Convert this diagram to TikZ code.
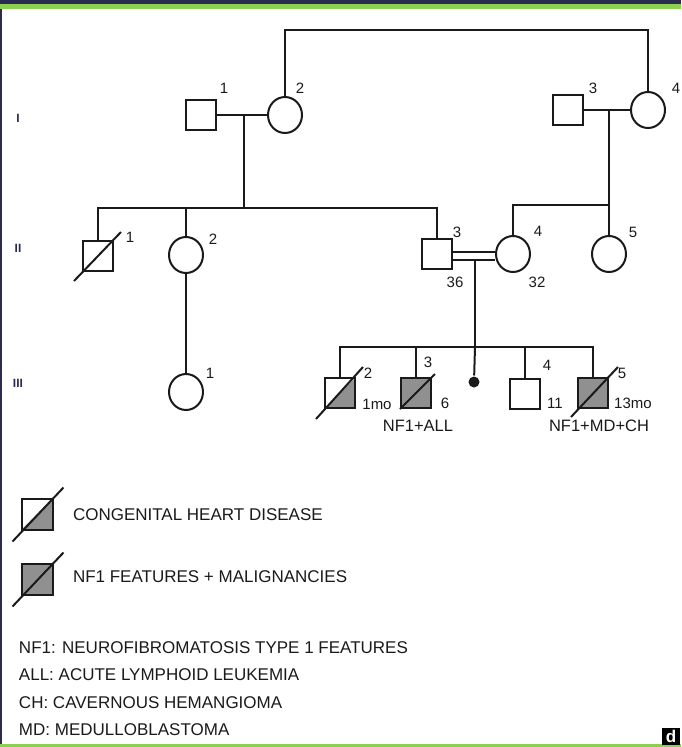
\documentclass[tikz,border=0pt]{standalone}
\usepackage{fontspec}
\setmainfont{Liberation Sans}
\usetikzlibrary{calc,shapes.geometric}
\definecolor{navy}{HTML}{2B2B4F}
\definecolor{band}{HTML}{8DCF4E}
\definecolor{aff}{HTML}{909090}
\definecolor{ink}{HTML}{1A1A1A}
\begin{document}
\begin{tikzpicture}[x=1pt,y=-1pt,line width=2pt,draw=ink,
  male/.style={draw=ink,rectangle,minimum size=30pt,inner sep=0pt},
  female/.style={draw=ink,ellipse,minimum width=34pt,minimum height=36pt,inner sep=0pt},
  chd/.style={male,path picture={\fill[aff] (path picture bounding box.south west) -- (path picture bounding box.south east) -- (path picture bounding box.north east) -- cycle;}},
  nfm/.style={male,fill=aff},
  num/.style={font=\fontsize{15}{17}\selectfont,inner sep=0pt,text=ink},
  dx/.style={font=\fontsize{16.5}{18}\selectfont,inner sep=0pt,text=ink},
  gen/.style={font=\fontsize{12}{13}\selectfont\bfseries,inner sep=0pt,text=navy},
  leg/.style={font=\fontsize{17}{19}\selectfont,inner sep=0pt,anchor=west,text=ink},
  abbr/.style={font=\fontsize{17}{19}\selectfont,inner sep=0pt,anchor=west,text=ink}]
\useasboundingbox (0,0) rectangle (681,747);
% frame bands
\fill[navy] (0,0) rectangle (681,3.5);
\fill[band] (0,3.5) rectangle (681,9);
\fill[navy] (0,9) rectangle (2,744);
\fill[band] (0,744) rectangle (681,747);
\node[fill=black,text=white,font=\fontsize{17}{18}\selectfont\bfseries,minimum width=18pt,minimum height=17pt,inner sep=0pt,anchor=north east] (dlab) at (681,727) {d};

% generation labels
\node[gen] (gI) at (18,118) {I};
\node[gen] (gII) at (18,248) {II};
\node[gen] (gIII) at (18,383) {III};

% Generation I
\node[male] (I1) at (201,115) {};
\node[female] (I2) at (285,115) {};
\node[male] (I3) at (568,110) {};
\node[female] (I4) at (648,110) {};
\node[num] (lI1) at (224,88) {1};
\node[num] (lI2) at (300,88) {2};
\node[num] (lI3) at (593,88) {3};
\node[num] (lI4) at (676,88) {4};
\coordinate (top) at (460,30);
\coordinate (m1) at (244,115);
\coordinate (m2) at (609,110);

% Generation II
\node[male] (II1) at (98,256) {};
\node[female] (II2) at (186,255) {};
\node[male] (II3) at (437,254) {};
\node[female] (II4) at (513,254) {};
\node[female] (II5) at (609,254) {};
\node[num] (lII1) at (130,237) {1};
\node[num] (lII2) at (213,239) {2};
\node[num] (lII3) at (457,232) {3};
\node[num] (lII4) at (538,231) {4};
\node[num] (lII5) at (633,232) {5};
\node[num] (aII3) at (455,282) {36};
\node[num] (aII4) at (537,282) {32};
\coordinate (s2) at (244,208);
\coordinate (s3) at (609,205);

% Generation III
\node[female] (III1) at (186,392) {};
\node[chd] (III2) at (340,393) {};
\node[nfm] (III3) at (416,393) {};
\node[circle,fill=ink,minimum size=11pt,inner sep=0pt] (preg) at (474,382) {};
\node[male] (III4) at (525,394) {};
\node[nfm] (III5) at (593,393) {};
\node[num] (lIII1) at (210,373) {1};
\node[num] (lIII2) at (368,373) {2};
\node[num] (lIII3) at (428,362) {3};
\node[num] (lIII4) at (547,365) {4};
\node[num] (lIII5) at (622,373) {5};
\node[num] (aIII2) at (377,404) {1mo};
\node[num] (aIII3) at (445,403) {6};
\node[num] (aIII4) at (555,403) {11};
\node[num] (aIII5) at (633,403) {13mo};
\node[dx] (dIII3) at (418,426) {NF1+ALL};
\node[dx] (dIII5) at (599,426) {NF1+MD+CH};
\coordinate (s4) at (475,347);
\coordinate (d3) at (475,259.5);

% connectors generation I
\draw (I2.north) -- (I2.north |- top) -- (I4.north |- top) -- (I4.north);
\draw (I1.east) -- (I2.west);
\draw (I3.east) -- (I4.west);
\draw (m1) -- (s2);
\draw (m2) -- (s3);
% sibship II (left)
\draw (II1.north) -- (II1.north |- s2) -- (II3.north |- s2) -- (II3.north);
\draw (II2.north) -- (II2.north |- s2);
% sibship II (right)
\draw (II4.north) -- (II4.north |- s3) -- (s3) -- (II5.north);
% consanguineous marriage
\draw ([yshift=2.5pt]II3.east) -- ([yshift=2.5pt]II3.east -| II4.west);
\draw ([yshift=-5.5pt]II3.east) -- ([yshift=-5.5pt]II3.east -| II4.west);
\draw (d3) -- (s4);
% II2 to III1
\draw (II2.south) -- (III1.north);
% sibship III
\draw (III2.north) -- (III2.north |- s4) -- (III5.north |- s4) -- (III5.north);
\draw (III3.north) -- (III3.north |- s4);
\draw (III4.north) -- (III4.north |- s4);
\draw (s4) -- (preg);
% diagonals
\draw ([shift={(-8pt,-9pt)}]II1.south west) -- ([shift={(7pt,8pt)}]II1.north east);
\draw ([shift={(-8pt,-10pt)}]III2.south west) -- ([shift={(7pt,10pt)}]III2.north east);
\draw (III3.south west) -- ([shift={(3pt,3pt)}]III3.north east);
\draw ([shift={(-6pt,-8pt)}]III5.south west) -- ([shift={(9pt,10pt)}]III5.north east);

% legend
\node[chd,minimum size=31pt] (L1) at (37,514) {};
\node[nfm,minimum size=31pt] (L2) at (37,579) {};
\draw ([shift={(-8pt,-11pt)}]L1.south west) -- ([shift={(10pt,10pt)}]L1.north east);
\draw ([shift={(-8pt,-11pt)}]L2.south west) -- ([shift={(10pt,10pt)}]L2.north east);
\node[leg] (tL1) at (72,515) {CONGENITAL HEART DISEASE};
\node[leg] (tL2) at (72,577) {NF1 FEATURES + MALIGNANCIES};
\node[abbr] (ab1) at (18,648) {NF1: NEUROFIBROMATOSIS TYPE 1 FEATURES};
\node[abbr] (ab2) at (18,675) {ALL: ACUTE LYMPHOID LEUKEMIA};
\node[abbr] (ab3) at (18,703) {CH: CAVERNOUS HEMANGIOMA};
\node[abbr] (ab4) at (18,730) {MD: MEDULLOBLASTOMA};
\end{tikzpicture}
\end{document}
